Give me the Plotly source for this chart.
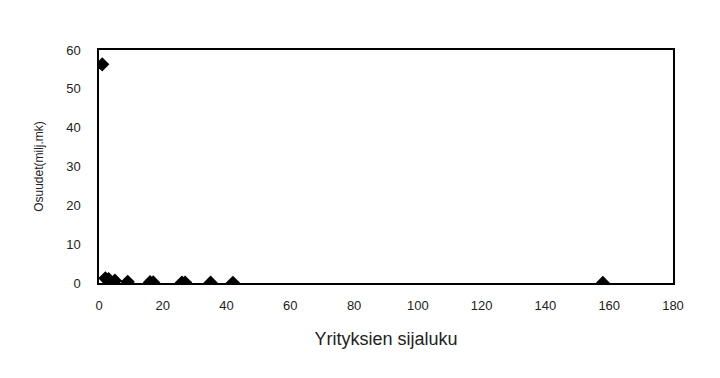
import plotly.graph_objects as go

rank = [1, 2, 3, 5, 9, 16, 17, 26, 27, 35, 42, 158]
share = [56.3, 1.2, 1.0, 0.6, 0.3, 0.2, 0.15, 0.1, 0.1, 0.08, 0.05, 0.02]

fig = go.Figure()
fig.add_trace(go.Scatter(
    x=rank, y=share, mode="markers",
    marker=dict(symbol="diamond", size=11, color="black"),
    showlegend=False,
))

font = "Liberation Sans, Arial, sans-serif"
fig.update_layout(
    width=720, height=378,
    margin=dict(l=99, r=47, t=50, b=95),
    paper_bgcolor="white", plot_bgcolor="white",
    font=dict(family=font, color="#222", size=13),
    xaxis=dict(
        range=[0, 180], tickvals=list(range(0, 181, 20)),
        showgrid=False, zeroline=False,
        showline=True, linecolor="black", linewidth=1.5, mirror=True,
        ticks="", tickfont=dict(size=13), ticklabelstandoff=10,
        title=dict(text="Yrityksien sijaluku", font=dict(size=18), standoff=20),
    ),
    yaxis=dict(
        range=[0, 60], tickvals=list(range(0, 61, 10)),
        showgrid=False, zeroline=False,
        showline=True, linecolor="black", linewidth=1.5, mirror=True,
        ticks="", tickfont=dict(size=13), ticklabelstandoff=14,
        title=dict(text="Osuudet(milj.mk)", font=dict(size=12), standoff=20),
    ),
)
fig.write_html("out.html")
